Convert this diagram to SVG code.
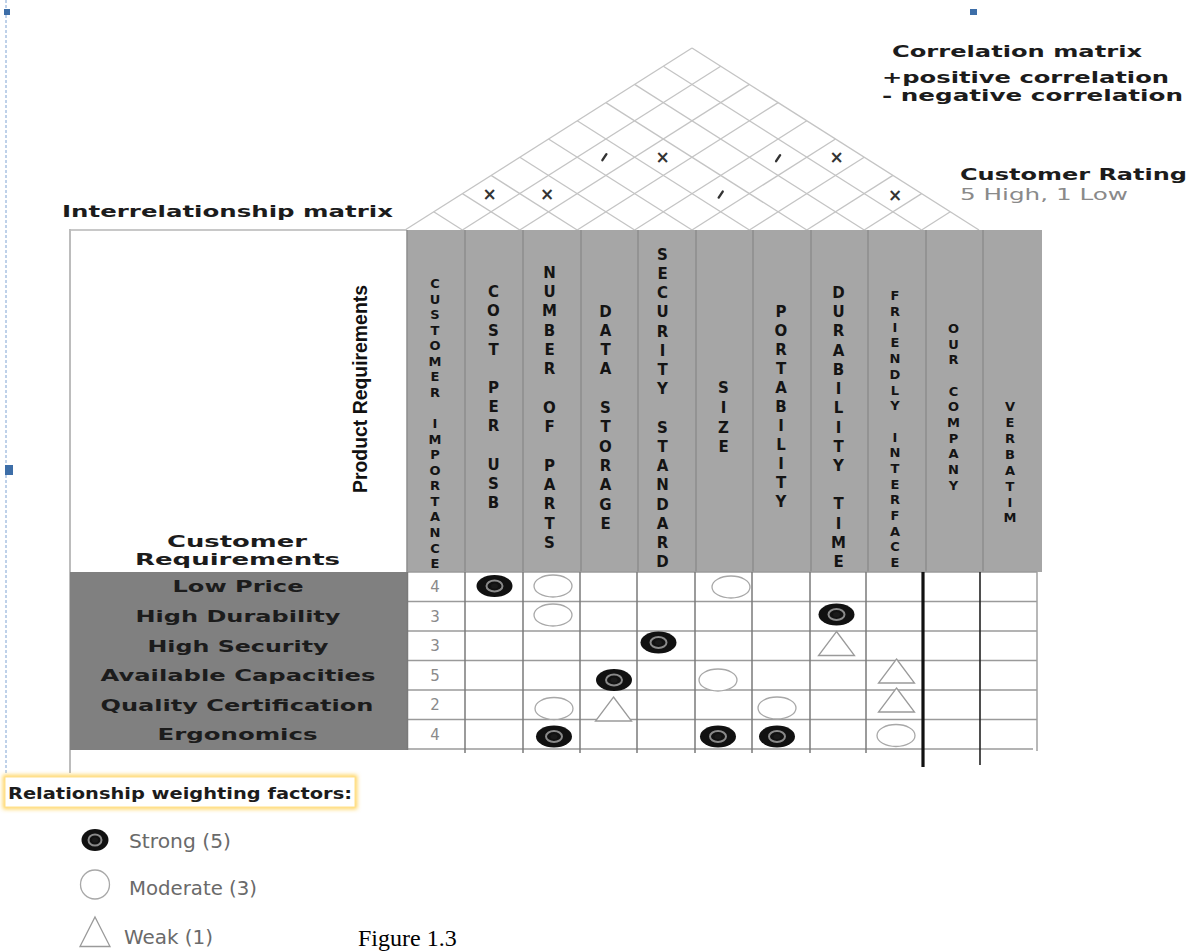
<svg xmlns="http://www.w3.org/2000/svg" width="1192" height="952" viewBox="0 0 1192 952">
<defs>
<style>
.b{font-family:"DejaVu Sans",Verdana,sans-serif;font-weight:bold;fill:#1c1c1c;font-size:16px}
.mid{text-anchor:middle}
.hd{font-family:"DejaVu Sans",Verdana,sans-serif;font-weight:bold;fill:#141414;text-anchor:middle}
.big{font-size:15px}
.sm{font-size:13px}
.num{font-family:"DejaVu Sans",Verdana,sans-serif;font-size:15px;fill:#8a8a8a;text-anchor:middle}
.lg{font-family:"DejaVu Sans",Verdana,sans-serif;font-size:19px;fill:#6a6a6a}
.roof{stroke:#c4c4c4;stroke-width:1.3;fill:none}
.mk{font-family:"DejaVu Sans",Verdana,sans-serif;font-weight:bold;font-size:17px;fill:#333;text-anchor:middle}
.dash{stroke:#333;stroke-width:2.4;stroke-linecap:round}
.gh{stroke:#9a9a9a;stroke-width:1.6}
.gv{stroke:#7a7a7a;stroke-width:1.5}
.hdv{stroke:#8c8c8c;stroke-width:1.5}
.mod{fill:#fff;stroke:#a8a8a8;stroke-width:1.3}
.weak{fill:#fff;stroke:#9a9a9a;stroke-width:1.3}
.handle{fill:#3d6ea8}
</style>
<g id="strong"><ellipse rx="18" ry="11" fill="#111"/><ellipse rx="8" ry="5.5" fill="none" stroke="#8a8a8a" stroke-width="2"/><ellipse rx="3.5" ry="2.6" fill="#1a1a1a"/></g>
<ellipse id="moderate" rx="19" ry="11" class="mod"/>
<path id="weak" d="M0,-12 L18,12 L-18,12 Z" class="weak"/>
<filter id="glow" x="-10%" y="-40%" width="120%" height="180%"><feGaussianBlur stdDeviation="2"/></filter>
</defs>
<rect width="1192" height="952" fill="#fff"/>

<!-- page handles -->
<g id="page-handles">
<line x1="6" y1="0" x2="6" y2="773" stroke="#7fa3d3" stroke-width="1" stroke-dasharray="3,2"/>
<rect class="handle" x="4" y="9" width="6" height="6"/>
<rect class="handle" x="970" y="9" width="7" height="6"/>
<rect class="handle" x="5" y="465" width="8" height="10"/>
</g>

<!-- roof / correlation matrix -->
<g id="roof">
<g class="roof">
<line x1="433.7" y1="211.8" x2="462.4" y2="230"/>
<line x1="462.4" y1="193.6" x2="519.8" y2="230"/>
<line x1="491.1" y1="175.4" x2="577.2" y2="230"/>
<line x1="519.8" y1="157.2" x2="634.6" y2="230"/>
<line x1="548.5" y1="139" x2="692" y2="230"/>
<line x1="577.2" y1="120.8" x2="749.4" y2="230"/>
<line x1="605.9" y1="102.6" x2="806.8" y2="230"/>
<line x1="634.6" y1="84.4" x2="864.2" y2="230"/>
<line x1="663.3" y1="66.2" x2="921.6" y2="230"/>
<line x1="692" y1="48" x2="979" y2="230"/>
<line x1="405" y1="230" x2="692" y2="48"/>
<line x1="462.4" y1="230" x2="720.7" y2="66.2"/>
<line x1="519.8" y1="230" x2="749.4" y2="84.4"/>
<line x1="577.2" y1="230" x2="778.1" y2="102.6"/>
<line x1="634.6" y1="230" x2="806.8" y2="120.8"/>
<line x1="692" y1="230" x2="835.5" y2="139"/>
<line x1="749.4" y1="230" x2="864.2" y2="157.2"/>
<line x1="806.8" y1="230" x2="892.9" y2="175.4"/>
<line x1="864.2" y1="230" x2="921.6" y2="193.6"/>
<line x1="921.6" y1="230" x2="950.3" y2="211.8"/>
</g>
<text class="mk" x="489.5" y="199.6">×</text>
<text class="mk" x="547" y="199.6">×</text>
<line class="dash" x1="602.4" y1="160.2" x2="606.4" y2="154.2"/>
<text class="mk" x="662.5" y="163.2">×</text>
<line class="dash" x1="718.7" y1="197.6" x2="722.7" y2="191.6"/>
<line class="dash" x1="776.1" y1="161.2" x2="780.1" y2="155.2"/>
<text class="mk" x="836.5" y="163.2">×</text>
<text class="mk" x="895" y="200.6">×</text>
</g>

<!-- annotations -->
<g id="correlation-legend">
<text class="b" x="892" y="57" textLength="250" lengthAdjust="spacingAndGlyphs">Correlation matrix</text>
<text class="b" x="882" y="83" font-size="15" textLength="287" lengthAdjust="spacingAndGlyphs">+positive correlation</text>
<text class="b" x="882" y="101" font-size="15" textLength="301" lengthAdjust="spacingAndGlyphs">- negative correlation</text>
</g>
<g id="customer-rating">
<text class="b" x="960" y="180" textLength="227" lengthAdjust="spacingAndGlyphs">Customer Rating</text>
<text x="960" y="200" font-family="DejaVu Sans, Verdana, sans-serif" font-size="15" fill="#8a8a8a" textLength="168" lengthAdjust="spacingAndGlyphs">5 High, 1 Low</text>
</g>
<g id="interrelationship-label">
<text class="b" x="62" y="217" textLength="331" lengthAdjust="spacingAndGlyphs">Interrelationship matrix</text>
</g>

<!-- left corner box -->
<g id="corner-box">
<line x1="70" y1="230" x2="407" y2="230" stroke="#c8c8c8" stroke-width="2"/>
<line x1="70" y1="229" x2="70" y2="773" stroke="#bcbcbc" stroke-width="2"/>
<text transform="translate(367,389) rotate(-90)" x="0" y="0" text-anchor="middle" font-family="Liberation Sans, Arial, sans-serif" font-weight="bold" font-size="21" fill="#111" textLength="208" lengthAdjust="spacingAndGlyphs">Product Requirements</text>
<text class="b mid" x="237" y="547" textLength="140" lengthAdjust="spacingAndGlyphs">Customer</text>
<text class="b mid" x="237.5" y="565" textLength="205" lengthAdjust="spacingAndGlyphs">Requirements</text>
</g>

<!-- header columns -->
<g id="header">
<rect x="407" y="230" width="635" height="342" fill="#a6a6a6"/>
<g class="hdv">
<line x1="407" y1="230" x2="407" y2="572"/>
<line x1="465" y1="230" x2="465" y2="572"/>
<line x1="523" y1="230" x2="523" y2="572"/>
<line x1="581" y1="230" x2="581" y2="572"/>
<line x1="638" y1="230" x2="638" y2="572"/>
<line x1="696" y1="230" x2="696" y2="572"/>
<line x1="753" y1="230" x2="753" y2="572"/>
<line x1="811" y1="230" x2="811" y2="572"/>
<line x1="868" y1="230" x2="868" y2="572"/>
<line x1="926" y1="230" x2="926" y2="572"/>
<line x1="983" y1="230" x2="983" y2="572"/>
</g>
<g id="col-customer-importance"><text class="hd sm" x="435 435 435 435 435 435 435 435 435 435 435 435 435 435 435 435 435 435 435" y="288 303.6 319.1 334.7 350.2 365.8 381.4 396.9 412.5 428 443.6 459.2 474.7 490.3 505.8 521.4 537 552.5 568.1">CUSTOMER IMPORTANCE</text></g>
<g id="col-cost-per-usb"><text class="hd big" x="493.5 493.5 493.5 493.5 493.5 493.5 493.5 493.5 493.5 493.5 493.5 493.5" y="297.2 316.4 335.5 354.7 373.8 393 412.1 431.3 450.4 469.6 488.7 507.9">COST PER USB</text></g>
<g id="col-number-of-parts"><text class="hd big" x="549.5 549.5 549.5 549.5 549.5 549.5 549.5 549.5 549.5 549.5 549.5 549.5 549.5 549.5 549.5" y="277.8 297.1 316.4 335.7 355 374.3 393.5 412.8 432.1 451.4 470.7 490 509.3 528.6 547.9">NUMBER OF PARTS</text></g>
<g id="col-data-storage"><text class="hd big" x="605.5 605.5 605.5 605.5 605.5 605.5 605.5 605.5 605.5 605.5 605.5 605.5" y="316.5 335.8 355.1 374.4 393.7 413 432.3 451.6 470.9 490.2 509.5 528.8">DATA STORAGE</text></g>
<g id="col-security-standard"><text class="hd big" x="662.5 662.5 662.5 662.5 662.5 662.5 662.5 662.5 662.5 662.5 662.5 662.5 662.5 662.5 662.5 662.5 662.5" y="259.8 279 298.2 317.4 336.6 355.9 375.1 394.3 413.5 432.7 451.9 471.1 490.3 509.5 528.7 547.9 567.2">SECURITY STANDARD</text></g>
<g id="col-size"><text class="hd big" x="723.5 723.5 723.5 723.5" y="393.2 412.9 432.6 452.3">SIZE</text></g>
<g id="col-portability"><text class="hd big" x="781 781 781 781 781 781 781 781 781 781 781" y="316.5 335.5 354.5 373.5 392.5 411.5 430.5 449.5 468.5 487.5 506.5">PORTABILITY</text></g>
<g id="col-durability-time"><text class="hd big" x="838.5 838.5 838.5 838.5 838.5 838.5 838.5 838.5 838.5 838.5 838.5 838.5 838.5 838.5 838.5" y="297.8 317 336.3 355.5 374.8 394 413.2 432.5 451.7 470.9 490.2 509.4 528.7 547.9 567.2">DURABILITY TIME</text></g>
<g id="col-friendly-interface"><text class="hd sm" x="895 895 895 895 895 895 895 895 895 895 895 895 895 895 895 895 895 895" y="300.4 316.1 331.8 347.4 363.1 378.8 394.5 410.2 425.8 441.5 457.2 472.9 488.6 504.2 519.9 535.6 551.3 567">FRIENDLY INTERFACE</text></g>
<g id="col-our-company"><text class="hd sm" x="953.5 953.5 953.5 953.5 953.5 953.5 953.5 953.5 953.5 953.5 953.5" y="333 348.7 364.3 380 395.7 411.4 427 442.7 458.4 474.1 489.7">OUR COMPANY</text></g>
<g id="col-verbatim"><text class="hd sm" x="1010 1010 1010 1010 1010 1010 1010 1010" y="411.4 427.3 443.1 459 474.8 490.7 506.6 522.4">VERBATIM</text></g>
</g>

<!-- row labels -->
<g id="rows">
<rect x="70" y="572" width="337" height="178" fill="#808080"/>
<g id="row-low-price"><text class="b mid" x="238" y="592" textLength="131" lengthAdjust="spacingAndGlyphs">Low Price</text></g>
<g id="row-high-durability"><text class="b mid" x="238" y="622" textLength="205" lengthAdjust="spacingAndGlyphs">High Durability</text></g>
<g id="row-high-security"><text class="b mid" x="238" y="651.5" textLength="181" lengthAdjust="spacingAndGlyphs">High Security</text></g>
<g id="row-available-capacities"><text class="b mid" x="238" y="681" textLength="275" lengthAdjust="spacingAndGlyphs">Available Capacities</text></g>
<g id="row-quality-certification"><text class="b mid" x="237" y="710.5" textLength="273" lengthAdjust="spacingAndGlyphs">Quality Certification</text></g>
<g id="row-ergonomics"><text class="b mid" x="237.5" y="740" textLength="160" lengthAdjust="spacingAndGlyphs">Ergonomics</text></g>
</g>

<!-- relationship grid -->
<g id="connectors">
<rect x="407" y="572" width="630" height="177" fill="#fff"/>
<g class="gh">
<line x1="407" y1="572" x2="1037" y2="572"/>
<line x1="407" y1="601.5" x2="1037" y2="601.5"/>
<line x1="407" y1="631" x2="1037" y2="631"/>
<line x1="407" y1="660.5" x2="1037" y2="660.5"/>
<line x1="407" y1="690" x2="1037" y2="690"/>
<line x1="407" y1="719.5" x2="1037" y2="719.5"/>
<line x1="407" y1="749" x2="1033" y2="749"/>
</g>
<g class="gv">
<line x1="407.5" y1="572" x2="407.5" y2="750"/>
<line x1="465" y1="572" x2="465" y2="753"/>
<line x1="523" y1="572" x2="523" y2="753"/>
<line x1="580" y1="572" x2="580" y2="753"/>
<line x1="637" y1="572" x2="637" y2="753"/>
<line x1="695" y1="572" x2="695" y2="753"/>
<line x1="752" y1="572" x2="752" y2="753"/>
<line x1="810" y1="572" x2="810" y2="753"/>
<line x1="866" y1="572" x2="866" y2="753"/>
<line x1="1037" y1="572" x2="1037" y2="751" stroke="#a0a0a0"/>
</g>
<line x1="923" y1="572" x2="923" y2="767" stroke="#111" stroke-width="3.2"/>
<line x1="980" y1="572" x2="980" y2="765" stroke="#222" stroke-width="1.6"/>
</g>

<g id="importance">
<text class="num" x="435" y="592">4</text>
<text class="num" x="435" y="621.5">3</text>
<text class="num" x="435" y="651">3</text>
<text class="num" x="435" y="680.5">5</text>
<text class="num" x="435" y="710">2</text>
<text class="num" x="435" y="739.5">4</text>
</g>

<g id="relationships">
<use href="#strong" x="494.5" y="586"/>
<use href="#moderate" x="553" y="586"/>
<use href="#moderate" x="731" y="587"/>
<use href="#moderate" x="553" y="615"/>
<use href="#strong" x="836.5" y="614.5"/>
<use href="#strong" x="658.5" y="642.5"/>
<use href="#weak" x="836.5" y="643.5"/>
<use href="#strong" x="614" y="680"/>
<use href="#moderate" x="718" y="680"/>
<use href="#weak" x="896.5" y="671"/>
<use href="#moderate" x="554" y="708.5"/>
<use href="#weak" x="613.5" y="709"/>
<use href="#moderate" x="777" y="708"/>
<use href="#weak" x="896.5" y="700"/>
<use href="#strong" x="554" y="736.5"/>
<use href="#strong" x="718" y="736.5"/>
<use href="#strong" x="777" y="736.5"/>
<use href="#moderate" x="896" y="735.5"/>
</g>

<!-- legend -->
<g id="legend">
<rect x="5" y="777" width="350" height="30" fill="none" stroke="#ffcf4a" stroke-width="4" filter="url(#glow)"/>
<rect x="5" y="777" width="350" height="30" fill="#fff" stroke="#ffe08a" stroke-width="1"/>
<text class="b" x="8" y="798.5" font-size="17" fill="#111" textLength="344" lengthAdjust="spacingAndGlyphs">Relationship weighting factors:</text>
<g id="legend-strong">
<ellipse cx="95" cy="840" rx="13.5" ry="11" fill="#111"/>
<ellipse cx="95" cy="840" rx="6.5" ry="5.5" fill="none" stroke="#8a8a8a" stroke-width="2"/>
<ellipse cx="95" cy="840" rx="3" ry="2.6" fill="#1a1a1a"/>
<text class="lg" x="129" y="847.5" textLength="102" lengthAdjust="spacingAndGlyphs">Strong (5)</text>
</g>
<g id="legend-moderate">
<circle cx="95" cy="884.5" r="14.5" class="mod"/>
<text class="lg" x="129" y="895" textLength="128" lengthAdjust="spacingAndGlyphs">Moderate (3)</text>
</g>
<g id="legend-weak">
<path d="M95,917 L110,946.5 L80,946.5 Z" class="weak"/>
<text class="lg" x="124" y="943.5" textLength="89" lengthAdjust="spacingAndGlyphs">Weak (1)</text>
</g>
</g>

<g id="caption">
<text x="358" y="946" font-family="Liberation Serif, Times New Roman, serif" font-size="24" fill="#000">Figure 1.3</text>
</g>
</svg>
